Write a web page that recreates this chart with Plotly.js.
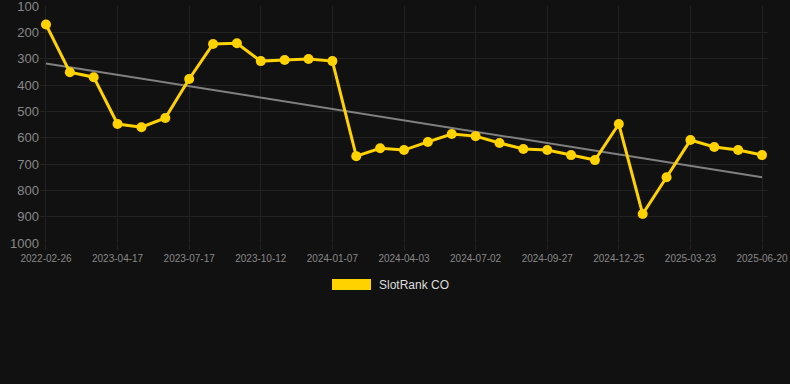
<!DOCTYPE html>
<html>
<head>
<meta charset="utf-8">
<script src="https://cdn.plot.ly/plotly-3.0.1.min.js"></script>
<style>
html,body{margin:0;padding:0;background:#111111;}
#chart{width:790px;height:384px;}
</style>
</head>
<body>
<div id="chart"></div>
<script>
const dates = [
  "2022-02-26","2023-02-16","2023-03-18","2023-04-17","2023-05-17","2023-06-16",
  "2023-07-17","2023-08-15","2023-09-13","2023-10-12","2023-11-10","2023-12-09",
  "2024-01-07","2024-02-05","2024-03-05","2024-04-03","2024-05-03","2024-06-02",
  "2024-07-02","2024-07-31","2024-08-29","2024-09-27","2024-10-27","2024-11-25",
  "2024-12-25","2025-01-23","2025-02-21","2025-03-23","2025-04-22","2025-05-21",
  "2025-06-20"
];
const ranks = [
  170, 351, 370, 548, 560, 525,
  377, 244, 241, 309, 305, 301,
  309, 670, 640, 647, 616, 586,
  594, 620, 643, 647, 666, 685,
  548, 890, 750, 609, 635, 647,
  666
];
const tickDates = [
  "2022-02-26","2023-04-17","2023-07-17","2023-10-12","2024-01-07","2024-04-03",
  "2024-07-02","2024-09-27","2024-12-25","2025-03-23","2025-06-20"
];
const trendX = ["2022-02-26","2025-06-20"];
const trendY = [318, 750];
const yTicks = [100,200,300,400,500,600,700,800,900,1000];
const seriesName = "SlotRank CO";

const traces = [
  {
    x: trendX, y: trendY, type: "scatter", mode: "lines",
    line: {color: "#808080", width: 2}, hoverinfo: "skip", showlegend: false
  },
  {
    x: dates, y: ranks, type: "scatter", mode: "lines+markers", name: seriesName,
    line: {color: "#FFD200", width: 3},
    marker: {color: "#FFD200", size: 10},
    showlegend: false
  }
];

const layout = {
  width: 790, height: 384,
  paper_bgcolor: "#111111", plot_bgcolor: "#111111",
  margin: {l: 40, r: 22, t: 6, b: 141},
  font: {family: "Liberation Sans, Arial, sans-serif", color: "#888888"},
  showlegend: false,
  xaxis: {
    type: "category",
    categoryorder: "array", categoryarray: dates,
    range: [-0.25, 30.25],
    tickmode: "array", tickvals: tickDates, ticktext: tickDates,
    tickfont: {size: 10, color: "#888888"},
    showgrid: true, gridcolor: "#222222", gridwidth: 1,
    ticks: "outside", ticklen: 6, tickcolor: "#222222",
    zeroline: false, showline: false
  },
  yaxis: {
    range: [1000, 99.6],
    tickmode: "array", tickvals: yTicks,
    tickfont: {size: 13, color: "#888888"},
    ticklabeloverflow: "allow",
    showgrid: true, gridcolor: "#222222", gridwidth: 1,
    ticks: "", zeroline: false, showline: false
  },
  shapes: [
    {type: "rect", xref: "paper", yref: "paper",
     x0: (332-40)/728, x1: (371-40)/728, y0: (384-141-290)/237, y1: (384-141-279)/237,
     fillcolor: "#FFD200", line: {width: 0}}
  ],
  annotations: [
    {text: seriesName, xref: "paper", yref: "paper",
     x: (377-40)/728, y: (384-141-285)/237, xanchor: "left", yanchor: "middle",
     showarrow: false, font: {size: 12, color: "#dddddd"}}
  ]
};

Plotly.newPlot("chart", traces, layout, {displayModeBar: false, staticPlot: true});
</script>
</body>
</html>
